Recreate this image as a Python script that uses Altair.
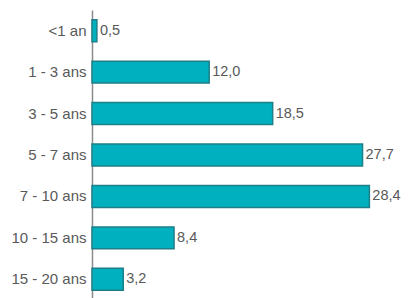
import altair as alt
import pandas as pd

categories = ["<1 an", "1 - 3 ans", "3 - 5 ans", "5 - 7 ans", "7 - 10 ans", "10 - 15 ans", "15 - 20 ans"]
values = [0.5, 12.0, 18.5, 27.7, 28.4, 8.4, 3.2]
labels = [f"{v:.1f}".replace(".", ",") for v in values]

df = pd.DataFrame({"cat": categories, "val": values, "lab": labels})

y = alt.Y("cat:N", sort=categories, title=None,
          scale=alt.Scale(paddingInner=0.47, paddingOuter=0.235),
          axis=alt.Axis(ticks=False, domainColor="#8c8c8c", domainWidth=1.5,
                        labelFont="Liberation Sans", labelFontSize=15,
                        labelColor="#595959", labelPadding=6))
x = alt.X("val:Q", scale=alt.Scale(domain=[0, 30]), axis=None)

bars = alt.Chart(df).mark_bar(color="#00B0BE", stroke="#1E7F89", strokeWidth=1.5).encode(x=x, y=y)
text = alt.Chart(df).mark_text(align="left", dx=3, font="Liberation Sans", fontSize=14.5,
                               color="#595959").encode(x=x, y=y, text="lab:N")

chart = (bars + text).properties(
    width=293, height=290,
    background="white",
    padding={"left": 84, "top": 2, "right": 16, "bottom": 0},
    autosize=alt.AutoSizeParams(type="none"),
).configure_view(stroke=None)

chart.save("out.html", embed_options={"renderer": "svg", "actions": False})
